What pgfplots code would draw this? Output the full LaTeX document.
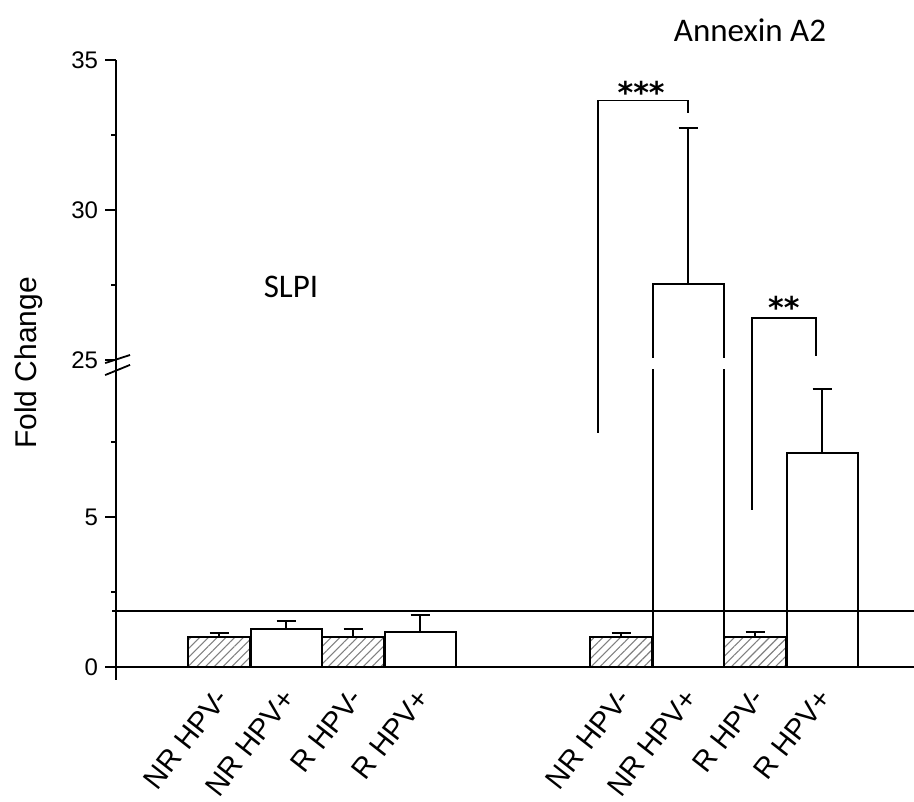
\documentclass[border=0pt]{standalone}
\usepackage{fontspec}
\setmainfont{Liberation Sans}
\newfontfamily\calibri{Carlito}
\newfontfamily\dejavu{DejaVu Sans}
\usepackage{pgfplots}
\pgfplotsset{compat=1.18}
\usepackage{pgfplotstable}
\usetikzlibrary{patterns.meta}

% HPV- groups (hatched)
\pgfplotstableread{
x y e
0 1.00 0.14
2 1.00 0.27
6 1.00 0.14
8 1.00 0.17
}\hatched
% HPV+ groups (open)
\pgfplotstableread{
x y e
1 1.27 0.27
3 1.18 0.55
7 27.52 5.20
9 7.13 2.13
}\open

\begin{document}
\begin{tikzpicture}
\begin{axis}[
  x=33.5pt, y=15pt,
  xmin=-1.537, xmax=10.373,
  ymin=-0.43, ymax=35,
  % broken axis: values above the break are shifted down
  y coord trafo/.code={\pgfmathparse{#1>17.5 ? #1-14.77 : #1}},
  clip=false,
  axis lines*=left,
  x axis line style={draw=none},
  y axis line style={line width=1pt},
  ybar,
  xtick={0,1,2,3,6,7,8,9},
  xticklabels={NR HPV-,NR HPV+,R HPV-,R HPV+,NR HPV-,NR HPV+,R HPV-,R HPV+},
  xtick style={draw=none},
  x tick label style={rotate=52, anchor=north east, font=\fontsize{14.5}{17}\selectfont, inner sep=0.5pt, yshift=4pt, xshift=1pt},
  ytick={0,5,25,30,35},
  yticklabels={0,5,25,30,35},
  minor ytick={2.5,7.5,27.5,32.5},
  tick align=outside,
  major tick length=5.5pt,
  minor tick length=2.5pt,
  ytick style={line width=1pt, black},
  minor y tick style={line width=1pt, black},
  y tick label style={font=\fontsize{12}{14}\selectfont},
  error bars/y dir=plus,
  error bars/y explicit,
  error bars/error bar style={line width=1pt, black},
  error bars/error mark options={rotate=90, line width=1pt, black, mark size=4.75pt},
]
\addplot[bar shift=0pt, bar width=31pt, draw=black, line width=1pt,
  pattern={Lines[angle=45,distance=3.1pt,line width=0.55pt]}, pattern color=gray]
  table[x=x, y=y, y error=e] {\hatched};
\addplot[bar shift=0pt, bar width=35.5pt, draw=black, line width=1pt, fill=white]
  table[x=x, y=y, y error=e] {\open};

% baseline and reference line
\draw[line width=1pt] (axis cs:-1.70,0) -- (axis cs:10.373,0);
\draw[line width=0.7pt] (axis cs:-1.597,1.87) -- (axis cs:10.373,1.87);

% break in the tall bar and on the axis
\fill[white] (axis cs:6.40,9.93) rectangle (axis cs:7.60,10.30);
\draw[line width=0.9pt] (axis cs:-1.70,10.13) -- (axis cs:-1.328,10.40);
\draw[line width=0.9pt] (axis cs:-1.70,9.73) -- (axis cs:-1.328,10.07);

% significance brackets
\draw[line width=0.8pt] (axis cs:5.657,7.8) -- (axis cs:5.657,33.647) -- (axis cs:7.0,33.647) -- (axis cs:7.0,33.237);
\node[anchor=base, font=\dejavu\bfseries\fontsize{15}{18}\selectfont, inner sep=0pt] at (axis cs:6.30,33.55) {***};
\draw[line width=0.8pt] (axis cs:7.955,5.233) -- (axis cs:7.955,26.403) -- (axis cs:8.910,26.403) -- (axis cs:8.910,25.137);
\node[anchor=base, font=\dejavu\bfseries\fontsize{15}{18}\selectfont, inner sep=0pt] at (axis cs:8.43,26.37) {**};

% texts
\node[rotate=90, font=\fontsize{15}{18}\selectfont] at (axis cs:-2.836,10.13) {Fold Change};
\node[font=\calibri\fontsize{16.5}{20}\selectfont] at (axis cs:1.075,27.44) {SLPI};
\node[font=\calibri\fontsize{16.5}{20}\selectfont] at (axis cs:7.925,36.0) {Annexin A2};

\coordinate (bbTL) at (axis cs:-3.269,37.003);
\coordinate (bbBR) at (axis cs:10.373,-4.5);
\end{axis}
\pgfresetboundingbox
\useasboundingbox (bbTL) rectangle (bbBR);
\end{tikzpicture}
\end{document}
